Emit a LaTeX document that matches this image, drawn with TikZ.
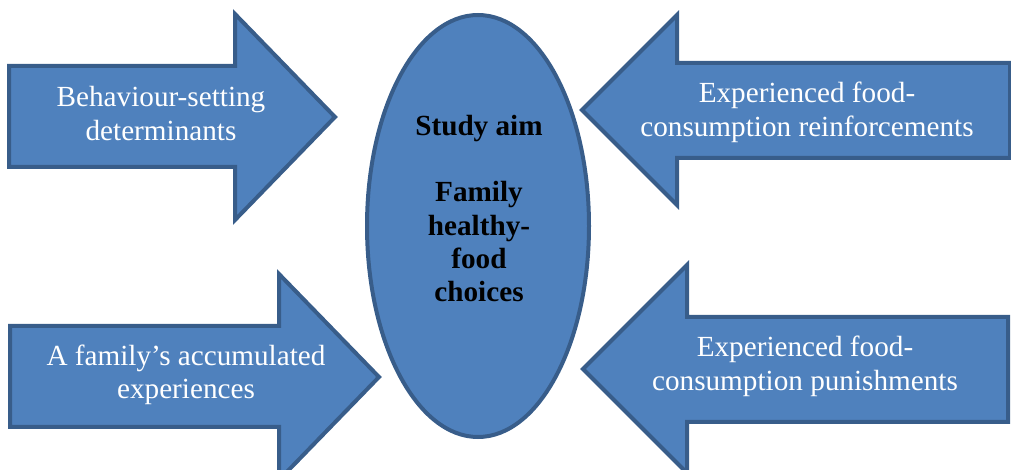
\documentclass[tikz,border=0pt]{standalone}
\usepackage{fontspec}
\setmainfont{Liberation Serif}
\usetikzlibrary{shapes.geometric}
\definecolor{shapefill}{HTML}{4F81BD}
\definecolor{shapeline}{HTML}{385D8A}
\newcommand{\lblfont}{\fontsize{21.9pt}{25pt}\selectfont}
\tikzset{
  blockarrow/.style={fill=shapefill, draw=shapeline, line width=3pt, line join=miter},
  arrowtext/.style={text=white, font=\lblfont, align=center, inner sep=0pt},
  aimtext/.style={text=black, font=\lblfont\bfseries, align=center, inner sep=0pt},
}
\begin{document}
\begin{tikzpicture}[x=0.75pt, y=-0.75pt]
  \useasboundingbox (0,0) rectangle (1011,470);
  \clip (0,0) rectangle (1011,470);

  % block arrows pointing at the centre
  \draw[blockarrow] (9,66) -- (235,66) -- (235,14) -- (335,117) -- (235,220) -- (235,167) -- (9,167) -- cycle;
  \draw[blockarrow] (1010,63) -- (677,63) -- (677,15) -- (582,110) -- (677,205) -- (677,158) -- (1010,158) -- cycle;
  \draw[blockarrow] (10,326) -- (279,326) -- (279,274) -- (379,377) -- (279,480) -- (279,427) -- (10,427) -- cycle;
  \draw[blockarrow] (1008,317) -- (687,317) -- (687,265) -- (583,369) -- (687,473) -- (687,422) -- (1008,422) -- cycle;

  % central ellipse
  \node[ellipse, fill=shapefill, draw=shapeline, line width=3pt,
        minimum width=166.5pt, minimum height=316.5pt, inner sep=0pt] (aim) at (478,226) {};

  % labels
  \node[arrowtext] (behav) at (161,117) {\strut Behaviour-setting\\\strut determinants};
  \node[arrowtext] (reinf) at (807,113) {\strut Experienced food-\\\strut consumption reinforcements};
  \node[arrowtext] (accum) at (186,375.5) {\strut A family’s accumulated\\\strut experiences};
  \node[arrowtext] (punish) at (805,367) {\strut Experienced food-\\\strut consumption punishments};
  \node[aimtext] (aimtxt) at (479,212) {\strut Study aim\\\strut\\\strut Family\\\strut healthy-\\\strut food\\\strut choices};
\end{tikzpicture}
\end{document}
